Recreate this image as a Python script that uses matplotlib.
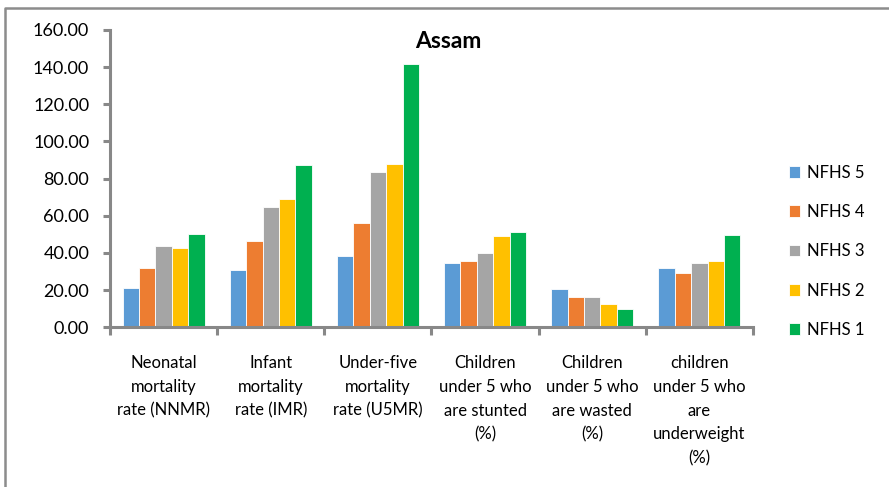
import numpy as np
import matplotlib.pyplot as plt
from matplotlib.lines import Line2D

plt.rcParams['font.family'] = ['Lato', 'DejaVu Sans']

categories = ['Neonatal\nmortality\nrate (NNMR)',
              'Infant\nmortality\nrate (IMR)',
              'Under-five\nmortality\nrate (U5MR)',
              'Children\nunder 5 who\nare stunted\n(%)',
              'Children\nunder 5 who\nare wasted\n(%)',
              'children\nunder 5 who\nare\nunderweight\n(%)']

nfhs5 = [21.0, 30.8, 38.4, 34.4, 20.8, 31.9]
nfhs4 = [31.8, 46.6, 56.0, 35.7, 16.1, 29.0]
nfhs3 = [43.8, 64.9, 83.4, 40.0, 16.1, 34.4]
nfhs2 = [42.9, 68.9, 88.1, 49.3, 12.5, 35.5]
nfhs1 = [50.2, 87.2, 141.7, 51.3, 9.7, 49.5]

series = [('NFHS 5', nfhs5, '#5B9BD5'),
          ('NFHS 4', nfhs4, '#ED7D31'),
          ('NFHS 3', nfhs3, '#A5A5A5'),
          ('NFHS 2', nfhs2, '#FFC000'),
          ('NFHS 1', nfhs1, '#00B050')]

fig = plt.figure(figsize=(8.89, 4.87), dpi=100)
ax = fig.add_axes([110/889, 1 - 327.3/487, 643/889, 297.3/487])

x = np.arange(len(categories))
w = 0.153
for k, (name, vals, col) in enumerate(series):
    ax.bar(x + (k - 2) * w, vals, w, color=col, edgecolor='white',
           linewidth=0.6, label=name)

ax.set_xlim(-0.5, len(categories) - 0.5)
ax.set_ylim(0, 160)
ax.set_yticks(np.arange(0, 161, 20))
ax.set_yticklabels(['%.2f' % v for v in np.arange(0, 161, 20)], fontsize=13)

ax.set_xticks(x)
ax.set_xticklabels(categories, fontsize=12, linespacing=1.6)
ax.set_xticks(np.arange(-0.5, len(categories)), minor=True)
ax.tick_params(axis='x', which='major', length=0, pad=20)
ax.tick_params(axis='x', which='minor', length=6, width=2.2, color='#888888',
               direction='out')
ax.tick_params(axis='y', length=5, width=2.2, color='#888888', pad=10)

for s in ['top', 'right']:
    ax.spines[s].set_visible(False)
for s in ['left', 'bottom']:
    ax.spines[s].set_color('#888888')
    ax.spines[s].set_linewidth(2.2)

fig.text(448/889, 1 - 42/487, 'Assam', fontsize=16.5, fontweight='bold',
         ha='center', va='center')

ax.legend(loc='upper left', bbox_to_anchor=(782/889, 1 - 158/487),
          bbox_transform=fig.transFigure, frameon=False, fontsize=12,
          handlelength=0.7, handleheight=0.7, handletextpad=0.4,
          labelspacing=1.4, borderaxespad=0)

# outer chart frame (left and top edges)
fig.add_artist(Line2D([5/889, 5/889, 1.0], [0.0, 1 - 8/487, 1 - 8/487],
                      transform=fig.transFigure, color='#8c8c8c', linewidth=1.8))

fig.savefig('out.png', dpi=100)
